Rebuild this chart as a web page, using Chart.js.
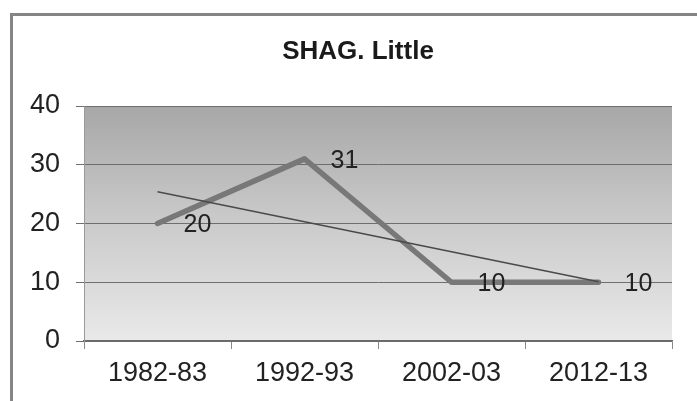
<!DOCTYPE html>
<html>
<head>
<meta charset="utf-8">
<script src="https://cdn.jsdelivr.net/npm/chart.js@4"></script>
<style>
html,body{margin:0;padding:0;background:#fff;width:697px;height:401px;overflow:hidden;}
#frame{position:absolute;left:10px;top:13px;width:700px;height:400px;border-left:3px solid #858585;border-top:3px solid #858585;box-sizing:border-box;}
#wrap{position:absolute;left:0;top:0;width:697px;height:401px;}
</style>
</head>
<body>
<div id="frame"></div>
<div id="wrap"><canvas id="c" width="697" height="401"></canvas></div>
<script>
const categories = ["1982-83", "1992-93", "2002-03", "2012-13"];
const values = [20, 31, 10, 10];
const trendValues = [25.4, 20.3, 15.2, 10.1];
const yTicks = [0, 10, 20, 30, 40];
const titleText = "SHAG. Little";

const FONT = 'Arial, "Liberation Sans", sans-serif';

const bgPlugin = {
  id: 'bg',
  beforeDraw(chart) {
    const {ctx, chartArea: a} = chart;
    const g = ctx.createLinearGradient(0, a.top, 0, a.bottom);
    g.addColorStop(0, '#a7a7a7');
    g.addColorStop(0.5, '#cbcbcb');
    g.addColorStop(1, '#e9e9e9');
    ctx.save();
    ctx.fillStyle = g;
    ctx.fillRect(a.left, a.top, a.right - a.left, a.bottom - a.top);
    ctx.restore();
  }
};

const titlePlugin = {
  id: 'customTitle',
  afterDraw(chart) {
    const {ctx} = chart;
    ctx.save();
    ctx.font = 'bold 26px ' + FONT;
    ctx.fillStyle = '#1a1a1a';
    ctx.textAlign = 'center';
    ctx.textBaseline = 'middle';
    ctx.fillText(titleText, 358, 52);
    ctx.restore();
  }
};

const labelPlugin = {
  id: 'vlabels',
  afterDatasetsDraw(chart) {
    const {ctx} = chart;
    const meta = chart.getDatasetMeta(0);
    ctx.save();
    ctx.font = '25px ' + FONT;
    ctx.fillStyle = '#222';
    ctx.textAlign = 'center';
    ctx.textBaseline = 'middle';
    meta.data.forEach((pt, i) => {
      ctx.fillText(String(values[i]), pt.x + 40, pt.y + 2);
    });
    ctx.restore();
  }
};

new Chart(document.getElementById('c'), {
  type: 'line',
  data: {
    labels: categories,
    datasets: [
      {
        data: values,
        borderColor: '#787878',
        borderWidth: 5.5,
        pointRadius: 0,
        tension: 0,
        borderJoinStyle: 'round',
        borderCapStyle: 'round',
        order: 1
      },
      {
        data: trendValues,
        borderColor: '#4a4a4a',
        borderWidth: 1.5,
        pointRadius: 0,
        tension: 0,
        order: 0
      }
    ]
  },
  options: {
    responsive: false,
    animation: false,
    devicePixelRatio: 1,
    layout: {padding: {left: 0, right: 25, top: 106, bottom: 0}},
    plugins: {
      legend: {display: false},
      tooltip: {enabled: false},
      title: {display: false}
    },
    scales: {
      x: {
        offset: true,
        afterFit(s) { s.height = 60; },
        grid: {offset: true, drawOnChartArea: false, drawTicks: true, tickLength: 8, color: '#888'},
        border: {display: true, color: '#6a6a6a', width: 1.5},
        ticks: {color: '#222', font: {family: FONT, size: 27}, padding: 8, maxRotation: 0}
      },
      y: {
        min: 0,
        max: 40,
        afterFit(s) { s.width = 84; },
        afterBuildTicks(s) { s.ticks = yTicks.map(v => ({value: v})); },
        grid: {color: '#6e6e6e', lineWidth: 1, tickLength: 8, drawTicks: true},
        border: {display: true, color: '#9a9a9a', width: 1},
        ticks: {color: '#222', font: {family: FONT, size: 27}, padding: 16}
      }
    }
  },
  plugins: [bgPlugin, labelPlugin, titlePlugin]
});
</script>
</body>
</html>
